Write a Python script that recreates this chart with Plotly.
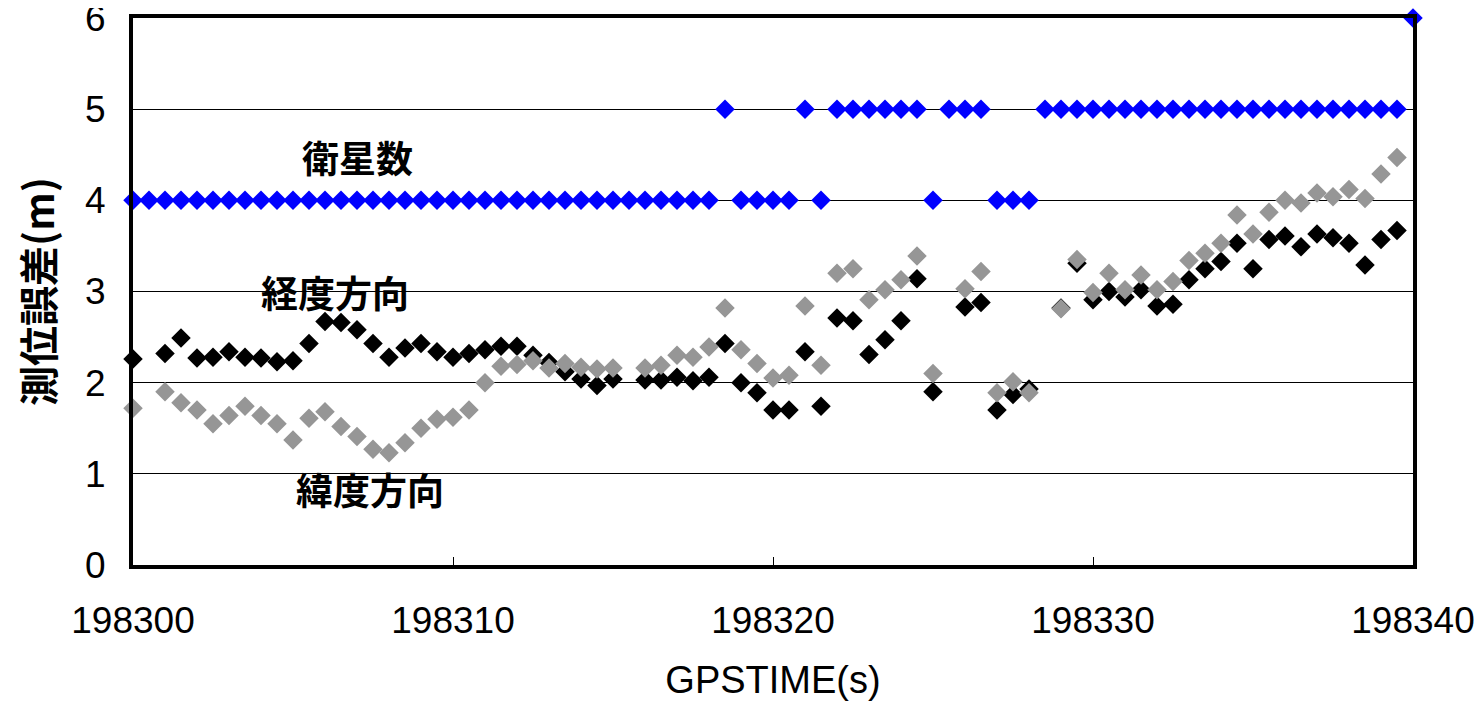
import plotly.graph_objects as go

# GPS time (s), 0.5 s steps from 198300 to 198340
t = [198300 + 0.5 * i for i in range(81)]

# Number of satellites (衛星数)
sats = ([4] * 37 + [5] + [4] * 4 + [5] + [4] + [5] * 6 + [4] + [5] * 3 + [4] * 3 + [5] * 23 + [6])

N = None
# 経度方向 (longitude error, m)
lon_err = [2.26, N, 2.32, 2.49, 2.27, 2.28, 2.34, 2.28, 2.27, 2.23,
           2.24, 2.43, 2.67, 2.66, 2.58, 2.43, 2.28, 2.38, 2.43, 2.34,
           2.28, 2.32, 2.36, 2.40, 2.40, 2.30, 2.22, 2.12, 2.04, 1.97,
           2.04, N, 2.03, 2.03, 2.06, 2.02, 2.06, 2.43, 2.00, 1.89,
           1.70, 1.70, 2.34, 1.74, 2.71, 2.68, 2.31, 2.47, 2.68, 3.14,
           1.90, N, 2.83, 2.88, 1.70, 1.87, 1.93, N, 2.82, 3.31,
           2.91, 3.00, 2.94, 3.02, 2.84, 2.86, 3.13, 3.25, 3.33, 3.53,
           3.25, 3.57, 3.61, 3.49, 3.63, 3.59, 3.53, 3.29, 3.57, 3.67,
           N]

# 緯度方向 (latitude error, m)
lat_err = [1.72, N, 1.90, 1.78, 1.70, 1.55, 1.64, 1.74, 1.64, 1.55,
           1.37, 1.61, 1.68, 1.52, 1.41, 1.27, 1.23, 1.34, 1.50, 1.60,
           1.62, 1.70, 2.00, 2.18, 2.20, 2.24, 2.16, 2.21, 2.17, 2.15,
           2.16, N, 2.16, 2.19, 2.30, 2.28, 2.39, 2.82, 2.36, 2.21,
           2.05, 2.08, 2.84, 2.19, 3.20, 3.25, 2.91, 3.02, 3.13, 3.39,
           2.10, N, 3.03, 3.22, 1.89, 2.01, 1.89, N, 2.81, 3.35,
           2.99, 3.20, 3.02, 3.18, 3.02, 3.11, 3.34, 3.42, 3.53, 3.84,
           3.63, 3.87, 4.00, 3.97, 4.08, 4.04, 4.12, 4.02, 4.29, 4.47,
           N]

x_ticks = [198300, 198310, 198320, 198330, 198340]
y_ticks = [0, 1, 2, 3, 4, 5, 6]

labels = ["衛星数", "経度方向", "緯度方向"]
label_x = [198307.0, 198306.3, 198307.4]
label_y = [4.47, 3.0, 0.83]

cjk = "Noto Sans CJK JP"
num = "Liberation Sans, Arial, sans-serif"

fig = go.Figure()
fig.add_trace(go.Scatter(x=t, y=sats, mode="markers", name="衛星数",
                         marker=dict(symbol="diamond", size=15, color="#0000FF", line=dict(width=0)),
                         cliponaxis=False))
fig.add_trace(go.Scatter(x=t, y=lon_err, mode="markers", name="経度方向",
                         marker=dict(symbol="diamond", size=15, color="#000000", line=dict(width=0)),
                         cliponaxis=False))
fig.add_trace(go.Scatter(x=t, y=lat_err, mode="markers", name="緯度方向",
                         marker=dict(symbol="diamond", size=15, color="#969696", line=dict(width=0)),
                         cliponaxis=False))

for txt, lx, ly in zip(labels, label_x, label_y):
    fig.add_annotation(x=lx, y=ly, xref="x", yref="y", text=txt, showarrow=False,
                       font=dict(family=cjk, size=37, color="black", weight="bold"))

# the page body has an 8 px margin, so the figure is sized to fit the window
fig.update_layout(
    width=1474, height=694,
    margin=dict(l=125, r=69, t=10, b=137),
    plot_bgcolor="white", paper_bgcolor="white",
    showlegend=False,
    xaxis=dict(range=[198300, 198340], tickvals=x_ticks, ticktext=[str(v) for v in x_ticks],
               showgrid=False, zeroline=False, automargin=False,
               showline=True, mirror=True, linecolor="black", linewidth=4,
               ticks="inside", ticklen=8, tickwidth=1, tickcolor="black",
               ticklabelstandoff=20, ticklabeloverflow="allow",
               tickfont=dict(family=num, size=37, color="black"),
               title=dict(text="GPSTIME(s)", font=dict(family=num, size=38, color="black"), standoff=27)),
    yaxis=dict(range=[0, 6], tickvals=y_ticks,
               showgrid=True, gridcolor="black", gridwidth=1, zeroline=False, automargin=False,
               showline=True, mirror=True, linecolor="black", linewidth=4,
               ticks="", ticklabelstandoff=16, ticklabeloverflow="allow",
               tickfont=dict(family=num, size=37, color="black"),
               title=dict(text="測位誤差(m)", font=dict(family=cjk, size=40, color="black", weight="bold"), standoff=22)),
)

fig.write_html("out.html")
